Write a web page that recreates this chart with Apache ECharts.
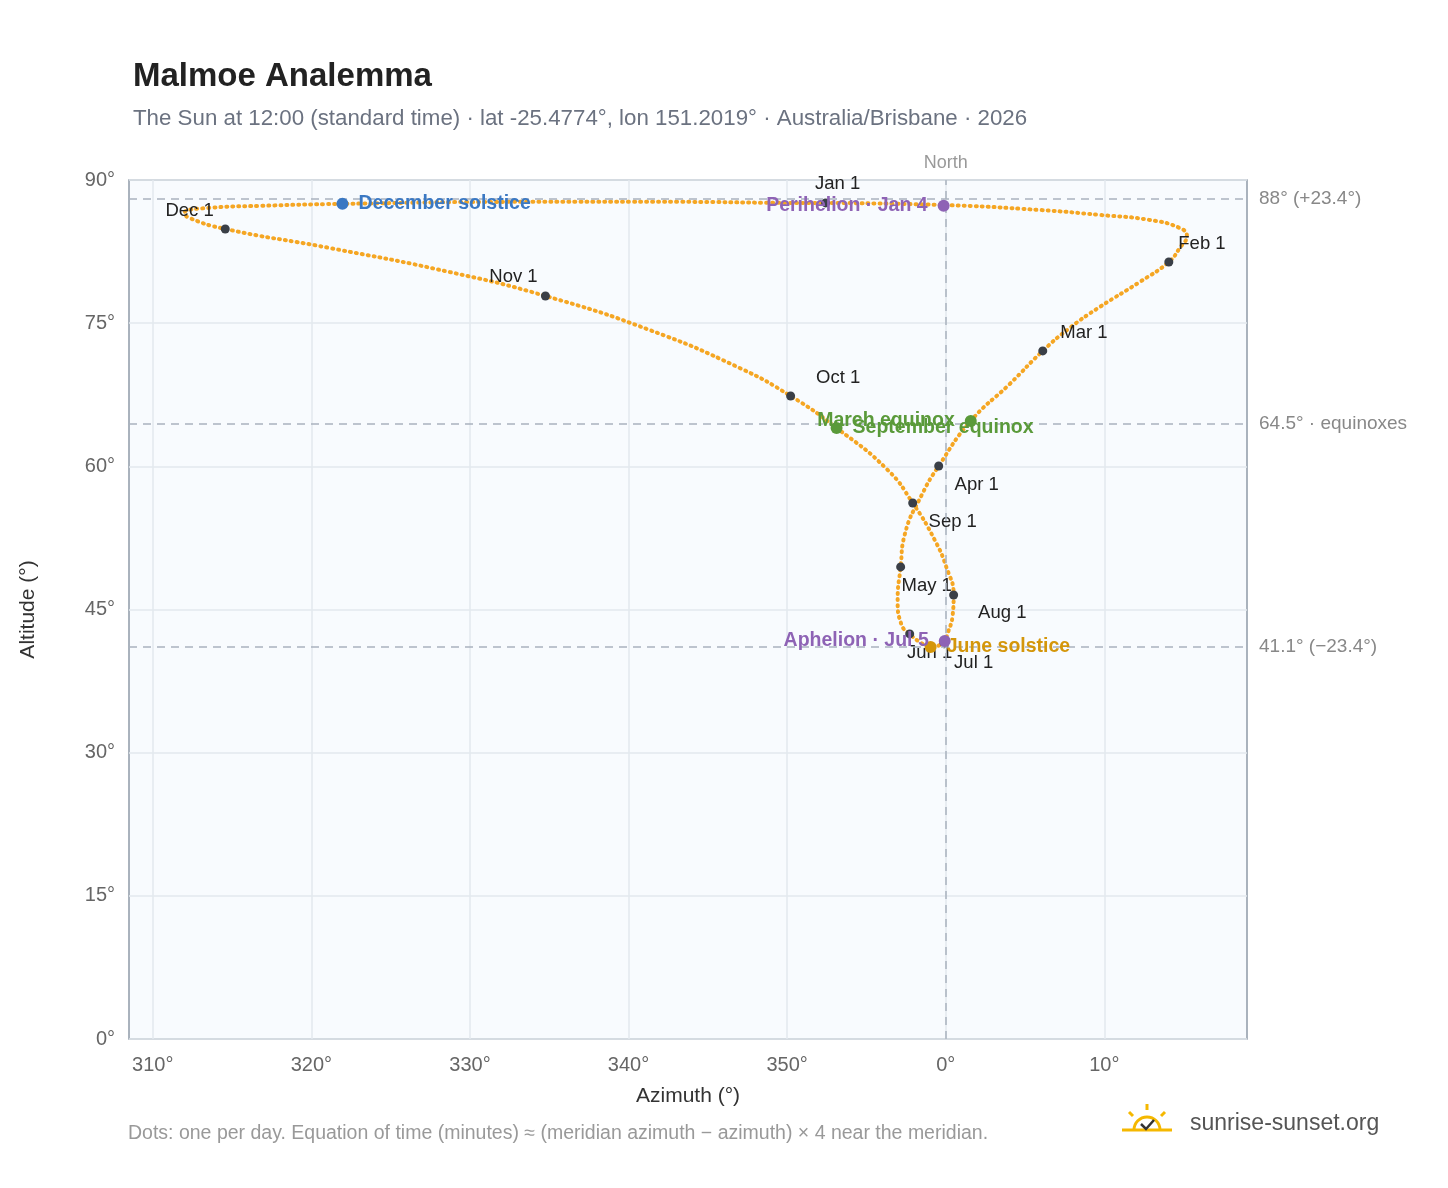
<!DOCTYPE html>
<html><head><meta charset="utf-8">
<script src="https://cdn.jsdelivr.net/npm/echarts@6/dist/echarts.min.js"></script>
<style>html,body{margin:0;padding:0;background:#fff}#c{width:1448px;height:1188px}</style>
</head><body><div id="c"></div>
<script>
// Sun path readings: [azimuth relative to north (deg), altitude (deg)]
const pathPoints = [
[-7.57,87.60],[-0.13,87.38],[5.93,86.86],[9.72,86.34],[12.87,85.81],[14.76,84.97],[15.21,84.14],[14.76,82.88],
[14.07,81.41],[12.24,79.32],[9.72,76.70],[7.82,74.50],[6.12,72.09],[4.04,68.63],[1.58,64.75],[-0.44,60.04],
[-1.51,57.00],[-2.59,52.81],[-2.84,49.46],[-3.03,46.00],[-2.78,43.38],[-2.27,42.44],[-1.64,41.60],[-0.95,41.07],
[-0.13,41.60],[0.13,42.54],[0.44,44.43],[0.50,46.52],[0.06,49.35],[-0.69,52.28],[-2.08,56.16],[-3.66,59.62],
[-6.88,64.02],[-9.78,67.37],[-13.00,70.31],[-18.68,74.29],[-25.24,77.85],[-31.29,80.36],[-38.86,82.88],[-45.43,84.87],
[-47.70,86.02],[-48.01,86.55],[-46.44,87.08],[-43.28,87.29],[-38.04,87.50],[-26.25,87.71],[-16.78,87.71],[-9.21,87.60],[-7.57,87.60]
];
const monthNames = ['Jan 1','Feb 1','Mar 1','Apr 1','May 1','Jun 1','Jul 1','Aug 1','Sep 1','Oct 1','Nov 1','Dec 1'];
const monthPoints = [[-7.57,87.6],[14.07,81.41],[6.12,72.09],[-0.44,60.04],[-2.84,49.46],[-2.27,42.44],[-0.13,41.6],[0.5,46.52],[-2.08,56.16],[-9.78,67.37],[-25.24,77.85],[-45.43,84.87]];
const monthLabelPos = ['top','right','right','bottom','bottom','bottom','bottom','right','bottom','right','top','left'];
const monthLabelOffset = [[12,0],[0,-18],[8,-18],[38,0],[26,0],[20,0],[30,2],[15,18],[40,0],[16,-18],[-32,0],[-2,-18]];
const events = [
 {name:'December solstice', value:[-38.04,87.5], color:'#3a78c3', pos:'right'},
 {name:'Perihelion · Jan 4', value:[-0.13,87.3], color:'#8e63b5', pos:'left'},
 {name:'March equinox', value:[1.58,64.75], color:'#5a9a3a', pos:'left'},
 {name:'September equinox', value:[-6.88,64.02], color:'#5a9a3a', pos:'right'},
 {name:'June solstice', value:[-0.95,41.07], color:'#d4960a', pos:'right'},
 {name:'Aphelion · Jul 5', value:[-0.06,41.7], color:'#8e63b5', pos:'left'}
];
const refLines = [{y:88, label:'88° (+23.4°)'},{y:64.5, label:'64.5° · equinoxes'},{y:41.1, label:'41.1° (−23.4°)'}];
const xTicks = [-50,-40,-30,-20,-10,0,10];

const chart = echarts.init(document.getElementById('c'));
const font = 'Liberation Sans, Arial, sans-serif';
chart.setOption({
 animation:false,
 textStyle:{fontFamily:font},
 title:[{text:'Malmoe Analemma',left:128,top:55,textStyle:{fontSize:33,fontWeight:'bold',color:'#222',fontFamily:font}},
   {text:'The Sun at 12:00 (standard time) · lat -25.4774°, lon 151.2019° · Australia/Brisbane · 2026',left:128,top:103,textStyle:{fontSize:22.3,fontWeight:'normal',color:'#6b7280',fontFamily:font}}],
 grid:{left:129,right:201,top:180,bottom:149,show:true,backgroundColor:'#f8fbfe',borderColor:'#8f9aa8',borderWidth:1.5},
 xAxis:{type:'value',min:-51.5,max:19,name:'Azimuth (°)',nameLocation:'middle',nameGap:47,nameTextStyle:{fontSize:21,color:'#333'},
   axisLine:{show:false},axisTick:{show:false,customValues:xTicks},
   axisLabel:{customValues:xTicks,fontSize:20,color:'#666',margin:16,formatter:v=>((v%360)+360)%360+'°'},
   splitLine:{show:true,lineStyle:{color:'#e3e8ee',width:1.5}}},
 yAxis:{type:'value',min:0,max:90,interval:15,name:'Altitude (°)',nameLocation:'middle',nameGap:90,nameRotate:90,nameTextStyle:{fontSize:21,color:'#333'},
   axisLine:{show:false},axisTick:{show:false},axisLabel:{fontSize:20,color:'#666',margin:14,formatter:'{value}°'},
   splitLine:{lineStyle:{color:'#e3e8ee',width:1.5}}},
 series:[
  {type:'line',data:pathPoints,smooth:0.5,showSymbol:false,lineStyle:{color:'#f5a623',width:4,type:[1,5],cap:'round'},z:2,
   markLine:{silent:true,symbol:'none',lineStyle:{color:'#a9b3bf',type:[8,6],width:1.5},
    data:refLines.map(r=>({yAxis:r.y,label:{show:true,position:'end',formatter:r.label,color:'#888',fontSize:19,distance:12}}))
      .concat([{xAxis:0,label:{show:true,position:'end',formatter:'North',color:'#999',fontSize:18,distance:8}}])}},
  {type:'scatter',data:monthPoints.map((p,i)=>({value:p,name:monthNames[i],label:{position:monthLabelPos[i],offset:monthLabelOffset[i]}})),
   symbolSize:9,itemStyle:{color:'#3a3f47',opacity:1},z:4,
   label:{show:true,formatter:'{b}',fontSize:18.5,color:'#222'}},
  {type:'scatter',data:events.map(e=>({value:e.value,name:e.name,itemStyle:{color:e.color,opacity:1},label:{position:e.pos,color:e.color}})),
   symbolSize:12,z:5,label:{show:true,formatter:'{b}',fontSize:19.5,fontWeight:'bold',distance:10}}
 ],
 graphic:[
  {type:'text',left:128,top:1124,style:{text:'Dots: one per day. Equation of time (minutes) ≈ (meridian azimuth − azimuth) × 4 near the meridian.',fontSize:19.5,fill:'#999',fontFamily:font}},
  {type:'text',left:1190,top:1112,style:{text:'sunrise-sunset.org',fontSize:23,fill:'#555',fontFamily:font}},
  {type:'arc',shape:{cx:1147,cy:1130,r:13,startAngle:Math.PI,endAngle:2*Math.PI},style:{stroke:'#f5b800',lineWidth:3,fill:'none'}},
  {type:'line',shape:{x1:1122,y1:1130,x2:1172,y2:1130},style:{stroke:'#f5b800',lineWidth:3}},
  {type:'line',shape:{x1:1147,y1:1104,x2:1147,y2:1110},style:{stroke:'#f5b800',lineWidth:3}},
  {type:'line',shape:{x1:1129,y1:1112,x2:1133,y2:1116},style:{stroke:'#f5b800',lineWidth:3}},
  {type:'line',shape:{x1:1165,y1:1112,x2:1161,y2:1116},style:{stroke:'#f5b800',lineWidth:3}},
  {type:'polyline',shape:{points:[[1141,1124],[1146,1129],[1154,1120]]},style:{stroke:'#333',lineWidth:2.5,fill:'none'}}
 ]
});
</script></body></html>
